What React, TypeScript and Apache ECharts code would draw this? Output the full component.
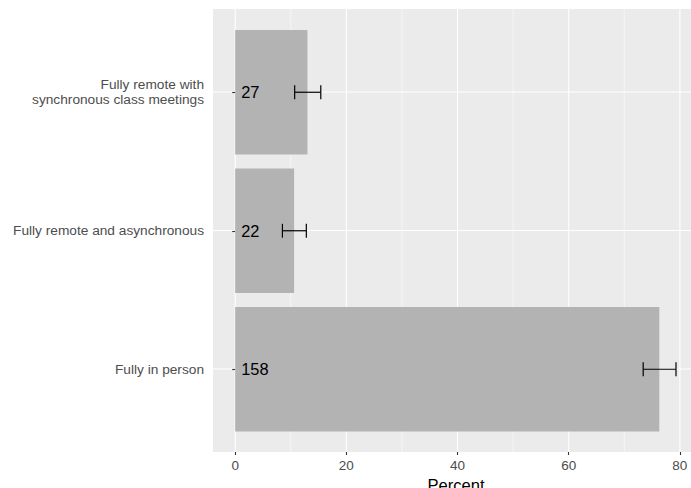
import React, { useEffect, useRef } from "react";
import * as echarts from "echarts";

const CATEGORIES = [
  "Fully in person",
  "Fully remote and asynchronous",
  "Fully remote with\nsynchronous class meetings",
];
const PERCENT = [76.3, 10.6, 13.0];
const LOWER = [73.4, 8.5, 10.7];
const UPPER = [79.3, 12.8, 15.4];
const COUNTS = [158, 22, 27];
const X_TICKS = [0, 20, 40, 60, 80];
const X_MINOR = [10, 30, 50, 70];
const Y_GRID = [1, 2, 3];

const X_MIN = -3.99;
const X_MAX = 82.0;
const FONT = "'Liberation Sans', Arial, Helvetica, sans-serif";

export default function App() {
  const ref = useRef<HTMLDivElement>(null);
  useEffect(() => {
    document.body.style.margin = "0";
    if (!ref.current) return;
    const chart = echarts.init(ref.current, undefined, { renderer: "svg" });
    const vLine = (width: number) => (params: any, api: any) => {
      const v = api.value(0);
      const p1 = api.coord([v, 0.4]);
      const p2 = api.coord([v, 3.6]);
      return {
        type: "line",
        shape: { x1: p1[0], y1: p1[1], x2: p2[0], y2: p2[1] },
        style: { stroke: "#FFFFFF", lineWidth: width },
        silent: true,
      };
    };
    chart.setOption({
      animation: false,
      textStyle: { fontFamily: FONT },
      grid: [
        {
          left: 213, right: 0, top: 9, bottom: 36, show: true, backgroundColor: "#EBEBEB", borderWidth: 0,
          containLabel: false, outerBoundsMode: "none",
        },
        { left: 213, right: 0, top: 23, bottom: 49.5, containLabel: false, outerBoundsMode: "none" },
      ],
      xAxis: [
        {
          gridIndex: 0,
          type: "value",
          min: X_MIN,
          max: X_MAX,
          axisLine: { show: false },
          axisTick: { show: true, customValues: X_TICKS, length: 3, lineStyle: { color: "#333333", width: 1.1 } },
          axisLabel: { customValues: X_TICKS, color: "#4D4D4D", fontSize: 13.5, margin: 6, fontFamily: FONT },
          splitLine: { show: false },
          name: "Percent",
          nameLocation: "middle",
          nameGap: 25,
          nameTextStyle: { fontSize: 16.6, color: "#000000", fontFamily: FONT, padding: [0, 0, 0, 8] },
        },
        { gridIndex: 1, type: "value", min: X_MIN, max: X_MAX, show: false },
      ],
      yAxis: [
        { gridIndex: 0, type: "value", min: 0.4, max: 3.6, show: false },
        {
          gridIndex: 1,
          type: "category",
          data: CATEGORIES,
          axisLine: { show: false },
          axisTick: { show: true, alignWithLabel: true, length: 3, lineStyle: { color: "#333333", width: 1.1 } },
          axisLabel: { color: "#4D4D4D", fontSize: 13.7, margin: 9, lineHeight: 15, align: "right", fontFamily: FONT },
          splitLine: { show: false },
        },
      ],
      series: [
        {
          type: "custom",
          xAxisIndex: 0,
          yAxisIndex: 0,
          z: 0,
          silent: true,
          data: X_MINOR.map((v) => [v]),
          renderItem: vLine(0.55),
        },
        {
          type: "custom",
          xAxisIndex: 0,
          yAxisIndex: 0,
          z: 0,
          silent: true,
          data: X_TICKS.map((v) => [v]),
          renderItem: vLine(1.1),
        },
        {
          type: "custom",
          xAxisIndex: 0,
          yAxisIndex: 0,
          z: 0,
          silent: true,
          data: Y_GRID.map((v) => [v]),
          renderItem: (params: any, api: any) => {
            const v = api.value(0);
            const p1 = api.coord([X_MIN, v]);
            const p2 = api.coord([X_MAX, v]);
            return {
              type: "line",
              shape: { x1: p1[0], y1: p1[1], x2: p2[0], y2: p2[1] },
              style: { stroke: "#FFFFFF", lineWidth: 1.1 },
            };
          },
        },
        {
          type: "bar",
          xAxisIndex: 1,
          yAxisIndex: 1,
          z: 2,
          data: PERCENT,
          barWidth: "90%",
          itemStyle: { color: "#B3B3B3" },
          label: {
            show: true,
            position: "insideLeft",
            distance: 6,
            color: "#000000",
            fontSize: 16.4,
            fontFamily: FONT,
            formatter: (p: any) => String(COUNTS[p.dataIndex]),
          },
        },
        {
          type: "custom",
          xAxisIndex: 1,
          yAxisIndex: 1,
          z: 3,
          data: CATEGORIES.map((_, i) => [LOWER[i], UPPER[i], i]),
          renderItem: (params: any, api: any) => {
            const lo = api.coord([api.value(0), api.value(2)]);
            const hi = api.coord([api.value(1), api.value(2)]);
            const half = api.size([0, 1])[1] * 0.05;
            const style = { stroke: "#000000", lineWidth: 1.2 };
            return {
              type: "group",
              children: [
                { type: "line", shape: { x1: lo[0], y1: lo[1], x2: hi[0], y2: hi[1] }, style },
                { type: "line", shape: { x1: lo[0], y1: lo[1] - half, x2: lo[0], y2: lo[1] + half }, style },
                { type: "line", shape: { x1: hi[0], y1: hi[1] - half, x2: hi[0], y2: hi[1] + half }, style },
              ],
            };
          },
        },
      ],
    });
    return () => chart.dispose();
  }, []);
  return <div ref={ref} style={{ width: 691, height: 488 }} />;
}
